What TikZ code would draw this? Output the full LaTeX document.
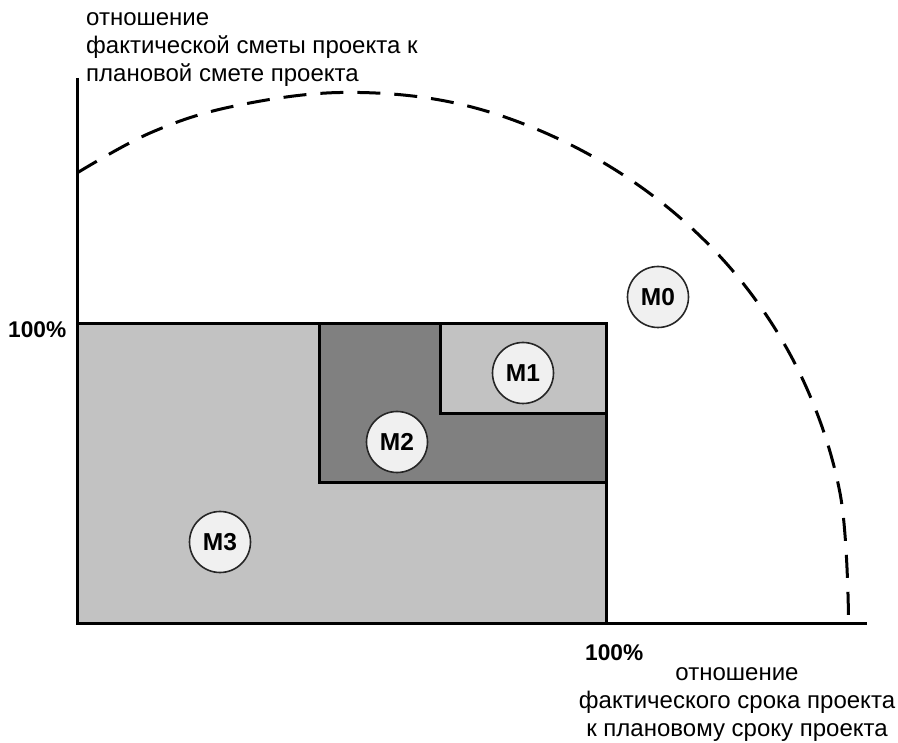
\documentclass[tikz,border=0pt]{standalone}
\usepackage{fontspec}
\setmainfont{Liberation Sans}
\begin{document}
\begin{tikzpicture}[x=1pt,y=-1pt,
  frame/.style={draw=black,line width=3pt},
  light/.style={frame,fill=gray!48},
  dark/.style={frame,fill=gray},
  axis/.style={draw=black,line width=3pt},
  zone/.style={circle,draw=black!85,line width=1.6pt,fill=black!6,
    minimum size=61pt,inner sep=0pt,font=\fontsize{24.5}{27}\selectfont\bfseries},
  label/.style={inner sep=0pt,font=\fontsize{24}{28}\selectfont},
  pct/.style={inner sep=0pt,font=\fontsize{22.7}{27}\selectfont\bfseries},
  limit/.style={draw=black,line width=3pt,dash pattern=on 23pt off 14pt}]
\useasboundingbox (0,0) rectangle (898,743);

% corner points of the chart
\coordinate (O) at (77,623);
\coordinate (ytop) at (77,78);
\coordinate (xend) at (867,623);

% nested regions
\path[light] (77,324) rectangle (606,623);
\path[dark]  (319,324) rectangle (606,483);
\path[light] (440,324) rectangle (606,414);

% axes
\draw[axis] (ytop) -- (O) -- (xend);

% outer boundary
\draw[limit] plot[smooth,tension=0.6] coordinates {(77,173) (150,133) (230,107)
  (340,92.5) (455,103) (563,141) (661,202) (742,282) (803,380) (840,493) (848.5,617)};

% zone markers
\node[zone] (m0) at (658,297) {M0};
\node[zone] (m1) at (523,373) {M1};
\node[zone] (m2) at (397,442) {M2};
\node[zone] (m3) at (220,542) {M3};

% axis labels (base anchor sits on the last line)
\node[pct,anchor=base west] (py) at (8,338) {100\%};
\node[pct,anchor=base west] (px) at (585,660) {100\%};
\node[label,anchor=base west,align=left] (ylab) at (86,81.5)
  {отношение\\фактической сметы проекта к\\плановой смете проекта};
\node[label,anchor=base,align=center] (xlab) at (737,736)
  {отношение\\фактического срока проекта\\к плановому сроку проекта};
\end{tikzpicture}
\end{document}
